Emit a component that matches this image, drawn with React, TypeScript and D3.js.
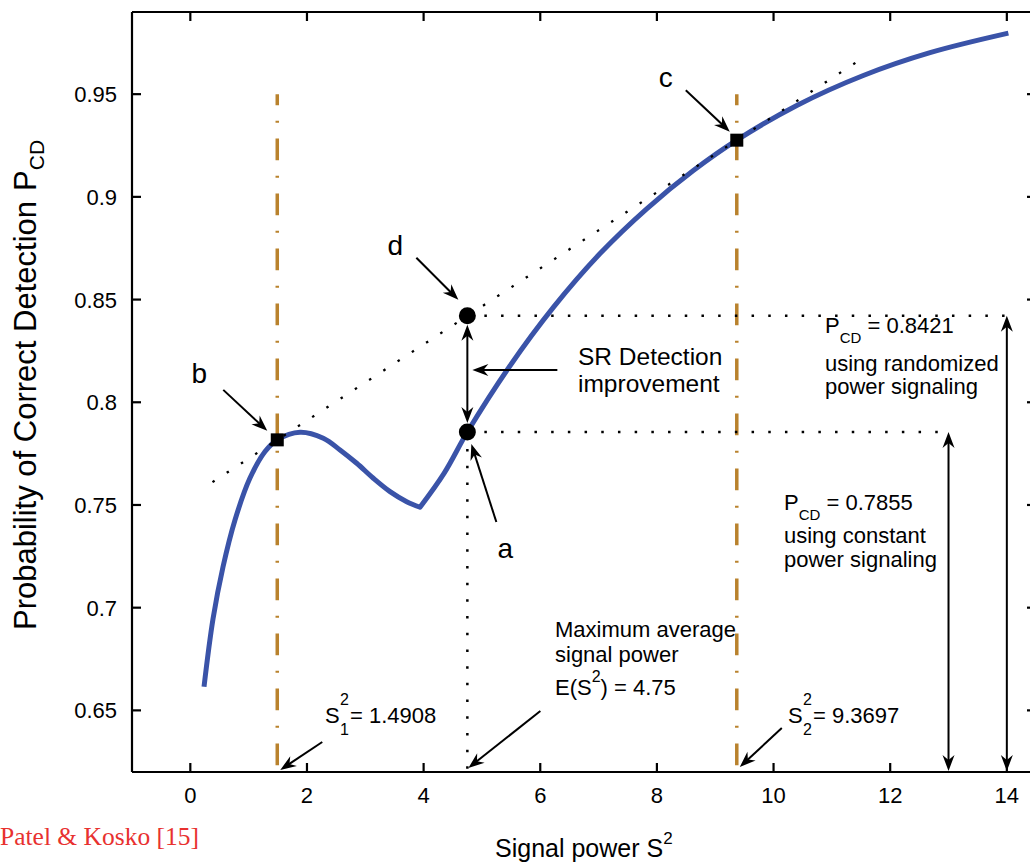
import React from "react";
import * as d3 from "d3";

const SANS = "'Liberation Sans', Arial, Helvetica, sans-serif";
const SERIF = "'Liberation Serif', 'Times New Roman', serif";

// Axis ticks
const xTicks = [0, 2, 4, 6, 8, 10, 12, 14];
const yTicks = [0.65, 0.7, 0.75, 0.8, 0.85, 0.9, 0.95];
const yTickLabels = ["0.65", "0.7", "0.75", "0.8", "0.85", "0.9", "0.95"];

// Detection probability versus signal power: branch up to the kink
const powerLeft = [0.235, 0.389, 0.56, 0.766, 1.023, 1.281, 1.4908, 1.881, 2.28, 2.567, 2.853, 3.138, 3.424, 3.71, 3.938];
const pcdLeft = [0.6615, 0.6945, 0.7198, 0.7427, 0.7631, 0.776, 0.7817, 0.7854, 0.7825, 0.7768, 0.7703, 0.763, 0.7565, 0.7516, 0.7489];
// ... and the branch after the kink
const powerRight = [3.938, 4.35, 4.75, 5.482, 6.224, 7.025, 7.825, 8.625, 9.3697, 10.398, 11.539, 12.683, 14.026];
const pcdRight = [0.7489, 0.7654, 0.7855, 0.8178, 0.8462, 0.8724, 0.8942, 0.9128, 0.9276, 0.9445, 0.9591, 0.9702, 0.9797];

// Key operating points
const S1 = 1.4908;
const S2 = 9.3697;
const meanPower = 4.75;
const pcdConstant = 0.7855;
const pcdRandom = 0.8421;
const pcdAtS1 = 0.7817;
const pcdAtS2 = 0.9276;
const chordRange = [0.38, 11.5];

const ORANGE = "#b9822d";
const BLUE = "#3a53a8";

function Head({ x, y, angle }: { x: number; y: number; angle: number }) {
  return (
    <path
      d="M0,0 L-16,-6 L-11,0 L-16,6 Z"
      transform={`translate(${x},${y}) rotate(${angle})`}
      fill="#000"
    />
  );
}

function Arrow({ from, to, both = false }: { from: number[]; to: number[]; both?: boolean }) {
  const [x1, y1] = from;
  const [x2, y2] = to;
  const ang = Math.atan2(y2 - y1, x2 - x1);
  const deg = (ang * 180) / Math.PI;
  const ux = Math.cos(ang);
  const uy = Math.sin(ang);
  const sx1 = both ? x1 + ux * 10 : x1;
  const sy1 = both ? y1 + uy * 10 : y1;
  return (
    <g>
      <line x1={sx1} y1={sy1} x2={x2 - ux * 10} y2={y2 - uy * 10} stroke="#000" strokeWidth={2} />
      <Head x={x2} y={y2} angle={deg} />
      {both && <Head x={x1} y={y1} angle={deg + 180} />}
    </g>
  );
}

export default function App() {
  const width = 1030;
  const height = 863;
  const x = d3.scaleLinear().domain([-1, 14.5]).range([132, 1036]);
  const y = d3.scaleLinear().domain([0.62, 0.99]).range([772, 12]);
  const [left, right] = x.range();
  const [bottom, top] = y.range();

  const curveLine = d3
    .line<[number, number]>()
    .x((d) => x(d[0]))
    .y((d) => y(d[1]))
    .curve(d3.curveCatmullRom.alpha(0.5));

  const branch = (xs: number[], ys: number[]) =>
    curveLine(xs.map((v, i) => [v, ys[i]] as [number, number])) || "";

  // both branches in one path so the kink gets a proper line join
  const curvePath = branch(powerLeft, pcdLeft) + branch(powerRight, pcdRight).replace(/^M/, "L");

  const chordSlope = (pcdAtS2 - pcdAtS1) / (S2 - S1);
  const chordAt = (s: number) => pcdAtS1 + (s - S1) * chordSlope;

  const bx = x(S1), by = y(pcdAtS1);
  const cx = x(S2), cy = y(pcdAtS2);
  const ax = x(meanPower), ay = y(pcdConstant), dY = y(pcdRandom);

  const tickLen = 9;
  const fs = 22;

  return (
    <svg
      width={width}
      height={height}
      style={{ position: "absolute", left: 0, top: 0, background: "#fff" }}
      fontFamily={SANS}
    >
      <rect width={width} height={height} fill="#fff" />

      {/* dash-dot guides at the two signalling powers */}
      {[S1, S2].map((s) => (
        <line
          key={s}
          x1={x(s)}
          x2={x(s)}
          y1={y(0.95)}
          y2={bottom}
          stroke={ORANGE}
          strokeWidth={3.5}
          strokeDasharray="21.6 15.7 2 15.7"
          strokeDashoffset={10.6}
        />
      ))}

      {/* dotted guide lines */}
      <g stroke="#000" strokeWidth={2.5} strokeDasharray="2.5 14.2" fill="none">
        <line x1={ax} x2={ax} y1={ay + 17} y2={bottom} />
        <line x1={ax + 17} x2={x(14)} y1={dY} y2={dY} />
        <line x1={ax + 17} x2={x(13)} y1={ay} y2={ay} />
      </g>

      {/* detection curve */}
      <path d={curvePath} fill="none" stroke={BLUE} strokeWidth={5} strokeLinejoin="round" />

      {/* chord touching the curve at b and c */}
      <line
        x1={x(chordRange[0])}
        y1={y(chordAt(chordRange[0]))}
        x2={x(chordRange[1])}
        y2={y(chordAt(chordRange[1]))}
        stroke="#000"
        strokeWidth={2.3}
        strokeDasharray="2.5 14.5"
      />

      {/* axes frame */}
      <g stroke="#000" strokeWidth={2.2} fill="none">
        <line x1={left} x2={right} y1={bottom} y2={bottom} />
        <line x1={left} x2={right} y1={top} y2={top} />
        <line x1={left} x2={left} y1={top} y2={bottom} />
        <line x1={right} x2={right} y1={top} y2={bottom} />
        {xTicks.map((t) => (
          <g key={"xt" + t}>
            <line x1={x(t)} x2={x(t)} y1={bottom} y2={bottom - tickLen} />
            <line x1={x(t)} x2={x(t)} y1={top} y2={top + tickLen} />
          </g>
        ))}
        {yTicks.map((t) => (
          <g key={"yt" + t}>
            <line x1={left} x2={left + tickLen} y1={y(t)} y2={y(t)} />
            <line x1={right} x2={right - tickLen} y1={y(t)} y2={y(t)} />
          </g>
        ))}
      </g>

      {/* tick labels */}
      <g fontSize={fs} fill="#000">
        {xTicks.map((t) => (
          <text key={"xl" + t} x={x(t)} y={bottom + 31} textAnchor="middle">
            {t}
          </text>
        ))}
        {yTicks.map((t, i) => (
          <text key={"yl" + t} x={117} y={y(t) + 8} textAnchor="end">
            {yTickLabels[i]}
          </text>
        ))}
      </g>

      {/* axis titles */}
      <text x={495} y={857} fontSize={25}>
        Signal power S
        <tspan fontSize={17} dy={-13}>2</tspan>
      </text>
      <text transform="translate(36,630) rotate(-90)" fontSize={31}>
        Probability of Correct Detection
        <tspan dx={10}>P</tspan>
        <tspan fontSize={21} dy={8}>CD</tspan>
      </text>

      {/* markers */}
      <rect x={bx - 6.5} y={by - 6.5} width={13} height={13} fill="#000" />
      <rect x={cx - 6.5} y={cy - 6.5} width={13} height={13} fill="#000" />
      <circle cx={ax} cy={ay} r={8.5} fill="#000" />
      <circle cx={ax} cy={dY} r={8.5} fill="#000" />

      {/* point labels and pointers */}
      <g fontSize={28} textAnchor="middle">
        <text x={bx - 78} y={by - 57}>b</text>
        <text x={ax - 72} y={dY - 61}>d</text>
        <text x={cx - 71} y={cy - 53}>c</text>
        <text x={ax + 38} y={ay + 126}>a</text>
      </g>
      <Arrow from={[bx - 54, by - 50]} to={[bx - 10, by - 9]} />
      <Arrow from={[ax - 51, dY - 58]} to={[ax - 9, dY - 16]} />
      <Arrow from={[cx - 51, cy - 50]} to={[cx - 7, cy - 8.5]} />
      <Arrow from={[ax + 29, ay + 90]} to={[ax + 4, ay + 12]} />

      {/* SR improvement */}
      <Arrow from={[ax, ay - 9]} to={[ax, dY + 9]} both />
      <Arrow from={[ax + 90, ay - 62]} to={[ax + 5, ay - 62]} />
      <g fontSize={24.5}>
        <text x={578} y={365}>SR Detection</text>
        <text x={578} y={392}>improvement</text>
      </g>

      {/* P_CD level arrows */}
      <Arrow from={[x(13), ay]} to={[x(13), bottom - 1]} both />
      <Arrow from={[x(14), dY]} to={[x(14), bottom - 1]} both />

      <g fontSize={fs}>
        <text x={825} y={333}>
          P<tspan fontSize={15} dy={10}>CD</tspan>
          <tspan dy={-10}> = 0.8421</tspan>
        </text>
        <text x={825} y={371}>using randomized</text>
        <text x={825} y={394}>power signaling</text>

        <text x={784} y={510}>
          P<tspan fontSize={15} dy={10}>CD</tspan>
          <tspan dy={-10}> = 0.7855</tspan>
        </text>
        <text x={784} y={543}>using constant</text>
        <text x={784} y={567}>power signaling</text>

        <text x={555} y={637}>Maximum average</text>
        <text x={555} y={662}>signal power</text>
        <text x={555} y={695}>
          E(S<tspan fontSize={16} dy={-13}>2</tspan>
          <tspan dy={13}>) = 4.75</tspan>
        </text>

        {/* S1 and S2 labels with stacked indices */}
        <text x={325} y={723}>S</text>
        <text x={340} y={705} fontSize={16}>2</text>
        <text x={340} y={735} fontSize={16}>1</text>
        <text x={350} y={723}> = 1.4908</text>

        <text x={788} y={723}>S</text>
        <text x={803} y={705} fontSize={16}>2</text>
        <text x={803} y={735} fontSize={16}>2</text>
        <text x={813} y={723}> = 9.3697</text>
      </g>
      <Arrow from={[bx + 45, bottom - 30]} to={[bx + 3, bottom - 2]} />
      <Arrow from={[ax + 73, bottom - 61]} to={[ax + 1, bottom - 4]} />
      <Arrow from={[cx + 45, bottom - 44]} to={[cx + 3, bottom - 5]} />

      <text x={0} y={845} fontFamily={SERIF} fontSize={25.5} fill="#e8312f">
        Patel &amp; Kosko [15]
      </text>
    </svg>
  );
}
